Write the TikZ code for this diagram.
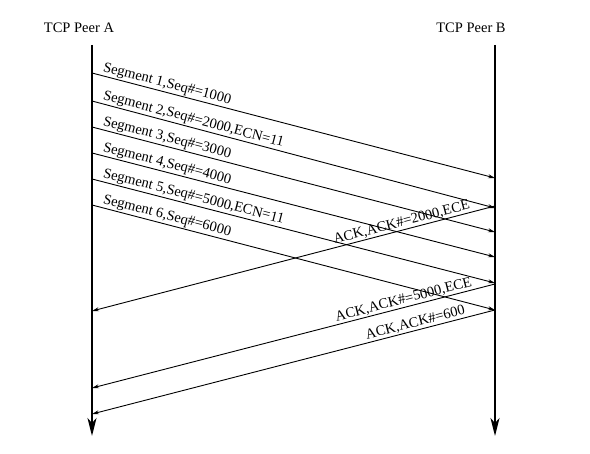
\documentclass[tikz,border=0pt]{standalone}
\usepackage{fontspec}
\setmainfont{Liberation Serif}
\usetikzlibrary{arrows.meta}
\begin{document}
\begin{tikzpicture}[x=1pt,y=-1pt,
  lifeline/.style={line width=1.6pt,-{Stealth[length=18pt,width=9pt,inset=5pt]}},
  msg/.style={line width=0.9pt,-{Stealth[length=7pt,width=4pt]}},
  ackmsg/.style={line width=0.9pt,{Stealth[length=7pt,width=4pt]}-},
  lbl/.style={font=\fontsize{14.5}{17}\selectfont, inner sep=1pt},
  peer/.style={font=\fontsize{14.5}{17}\selectfont, inner sep=0pt}]
\useasboundingbox (0,0) rectangle (590,454);
\node[peer] (pa) at (79,28) {TCP Peer A};
\node[peer] (pb) at (471,28) {TCP Peer B};
\coordinate (atop) at (92,45); \coordinate (abot) at (92,436);
\coordinate (btop) at (495,45); \coordinate (bbot) at (495,436);
\draw[lifeline] (atop) -- (abot);
\draw[lifeline] (btop) -- (bbot);
% segments
\coordinate (a1) at (92,73);  \coordinate (b1) at (495,178);
\coordinate (a2) at (92,101); \coordinate (b2) at (495,208);
\coordinate (a3) at (92,127); \coordinate (b3) at (495,232);
\coordinate (a4) at (92,153); \coordinate (b4) at (495,257);
\coordinate (a5) at (92,179); \coordinate (b5) at (495,283);
\coordinate (a6) at (92,205); \coordinate (b6) at (495,310);
% acks
\coordinate (b7) at (495,206); \coordinate (a7) at (92,311);
\coordinate (b8) at (495,284); \coordinate (a8) at (92,388);
\coordinate (b9) at (495,310); \coordinate (a9) at (92,414);
\draw[msg] (a1) -- node[lbl,sloped,pos=0.02,anchor=south west]{Segment 1,Seq\#=1000} (b1);
\draw[msg] (a2) -- node[lbl,sloped,pos=0.02,anchor=south west]{Segment 2,Seq\#=2000,ECN=11} (b2);
\draw[msg] (a3) -- node[lbl,sloped,pos=0.02,anchor=south west]{Segment 3,Seq\#=3000} (b3);
\draw[msg] (a4) -- node[lbl,sloped,pos=0.02,anchor=south west]{Segment 4,Seq\#=4000} (b4);
\draw[msg] (a5) -- node[lbl,sloped,pos=0.02,anchor=south west]{Segment 5,Seq\#=5000,ECN=11} (b5);
\draw[msg] (a6) -- node[lbl,sloped,pos=0.02,anchor=south west]{Segment 6,Seq\#=6000} (b6);
\draw[ackmsg] (a7) -- node[lbl,sloped,pos=0.945,anchor=south east]{ACK,ACK\#=2000,ECE} (b7);
\draw[ackmsg] (a8) -- node[lbl,sloped,pos=0.95,anchor=south east]{ACK,ACK\#=5000,ECE} (b8);
\draw[ackmsg] (a9) -- node[lbl,sloped,pos=0.933,anchor=south east]{ACK,ACK\#=600} (b9);
\end{tikzpicture}
\end{document}
